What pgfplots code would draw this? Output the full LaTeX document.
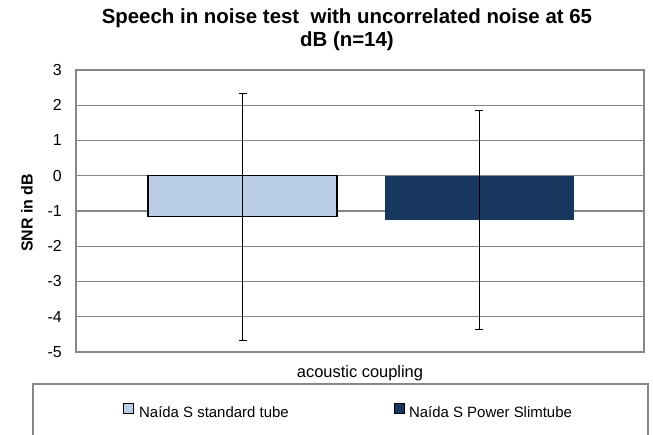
\documentclass[border=0pt]{standalone}
\usepackage{pgfplots}
\pgfplotsset{compat=1.18}
\usepackage{fontspec}
\setmainfont{Liberation Sans}
\definecolor{gridgray}{RGB}{134,134,134}
\definecolor{lightbar}{RGB}{185,205,229}
\definecolor{darkbar}{RGB}{23,55,94}
\pgfplotsset{sqlegend/.style={legend image code/.code={\draw[##1] (0bp,0bp) rectangle (10bp,10bp);}}}
\begin{document}
\begin{tikzpicture}
\useasboundingbox (0bp,0bp) rectangle (653bp,435bp);
\clip (0bp,0bp) rectangle (653bp,435bp);
\draw[gridgray, line width=1.2bp] (33bp,51bp) rectangle (648bp,-30bp);
\begin{axis}[
  at={(76bp,83bp)}, anchor=south west,
  scale only axis, width=568bp, height=282bp,
  xmin=-1, xmax=1, ymin=-5, ymax=3,
  ytick={-5,-4,-3,-2,-1,0,1,2,3}, xtick=\empty,
  ymajorgrids, major tick length=0pt,
  axis line style={gridgray, line width=1.2bp},
  grid style={gridgray, line width=1.1bp},
  /pgf/number format/assume math mode=true,
  yticklabel style={font=\fontsize{16}{19}\selectfont, inner sep=0pt, xshift=-14bp},
  ybar, bar width=189bp,
  title={Speech in noise test\ \ with uncorrelated noise at 65\\dB (n=14)},
  title style={font=\bfseries\fontsize{20.5}{23.5}\selectfont, align=center,
    at={(axis description cs:0.477,1.1986)}, anchor=north, inner sep=0pt},
  xlabel={acoustic coupling},
  xlabel style={font=\fontsize{16.5}{19}\selectfont, at={(axis description cs:0.5,-0.0887)}, anchor=base, inner sep=0pt},
  ylabel={SNR in dB},
  ylabel style={font=\bfseries\fontsize{16}{19}\selectfont, at={(axis description cs:-0.0863,0.493)}, anchor=center, rotate=0, inner sep=0pt},
  legend columns=2,
  legend cell align=left,
  legend style={at={(axis description cs:0.0827,-0.209)}, anchor=west, draw=none, fill=none,
    inner sep=0pt, outer sep=0pt,
    nodes={inner sep=0pt, font=\fontsize{15}{18}\selectfont},
    /tikz/column 1/.style={column sep=5bp},
    /tikz/column 2/.style={column sep=105bp},
    /tikz/column 3/.style={column sep=5bp}},
]
\addplot[sqlegend, fill=lightbar, draw=black, line width=1.2bp, bar shift=-117.5bp,
  error bars/.cd, y dir=both, y explicit,
  error bar style={black, line width=0.8bp},
  error mark options={rotate=90, black, mark size=4bp, line width=0.8bp}]
  coordinates {(0,-1.16) +- (0,3.5)};
\addplot[sqlegend, fill=darkbar, draw=none, bar shift=119bp,
  error bars/.cd, y dir=both, y explicit,
  error bar style={black, line width=0.8bp},
  error mark options={rotate=90, black, mark size=4bp, line width=0.8bp}]
  coordinates {(0,-1.25) +- (0,3.11)};
\legend{Naída S standard tube, Naída S Power Slimtube}
\end{axis}
\end{tikzpicture}
\end{document}
